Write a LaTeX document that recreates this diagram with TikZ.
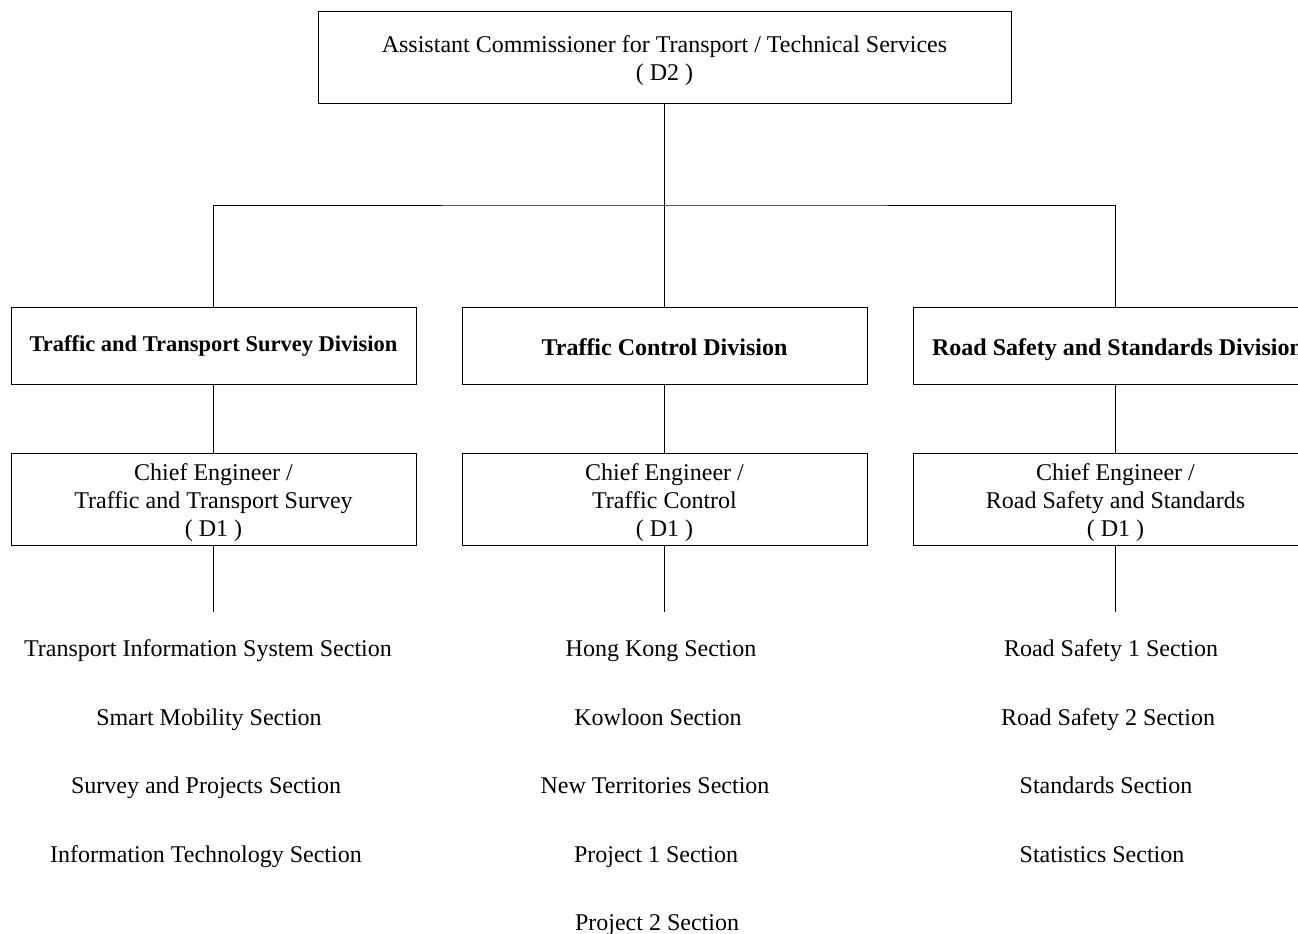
\documentclass[tikz,border=0pt]{standalone}
\usepackage{fontspec}
\setmainfont{Liberation Serif}
\begin{document}
\begin{tikzpicture}[x=1pt,y=-1pt,
  box/.style={draw, line width=0.9pt, rectangle, inner sep=0pt},
  divbox/.style={box, minimum width=405pt, minimum height=77pt},
  chiefbox/.style={box, minimum width=405pt, minimum height=92pt},
  txt/.style={align=center, inner sep=0pt, font=\fontsize{24}{28}\selectfont},
  btxt/.style={txt, font=\fontsize{24}{28}\selectfont\bfseries},
  sect/.style={anchor=base, inner sep=0pt, font=\fontsize{24}{28}\selectfont},
  conn/.style={line width=0.9pt}]
\useasboundingbox (0,0) rectangle (1298,934);
\clip (0,0) rectangle (1298,934);
% top
\node[box, minimum width=693pt, minimum height=92pt] (top) at (664.5,57) {};
\node[txt] (topt) at ([yshift=-4pt]top.center)
  {Assistant Commissioner for Transport / Technical Services\\( D2 )};
% divisions
\node[divbox] (div1) at (213.5,345.5) {};
\node[divbox] (div2) at (664.5,345.5) {};
\node[divbox] (div3) at (1115.5,345.5) {};
\node[btxt, font=\fontsize{22.5}{27}\selectfont\bfseries] (div1t) at ([yshift=-1pt]div1.center) {Traffic and Transport Survey Division};
\node[btxt] (div2t) at ([yshift=-2pt]div2.center) {Traffic Control Division};
\node[btxt] (div3t) at ([xshift=2pt,yshift=-4pt]div3.center) {Road Safety and Standards Division};
% chiefs
\node[chiefbox] (ce1) at (213.5,499) {};
\node[chiefbox] (ce2) at (664.5,499) {};
\node[chiefbox] (ce3) at (1115.5,499) {};
\node[txt] (ce1t) at ([yshift=-4pt]ce1.center) {Chief Engineer /\\Traffic and Transport Survey\\( D1 )};
\node[txt] (ce2t) at ([yshift=-4pt]ce2.center) {Chief Engineer /\\Traffic Control\\( D1 )};
\node[txt] (ce3t) at ([yshift=-4pt]ce3.center) {Chief Engineer /\\Road Safety and Standards\\( D1 )};
% connectors
\coordinate (bus) at (664.5,205);
\draw[conn] (top.south) -- (bus);
\draw[conn] (div1.north) |- (bus) -| (div3.north);
\draw[conn] (div2.north) -- (bus);
\draw[conn] (div1.south) -- (ce1.north);
\draw[conn] (div2.south) -- (ce2.north);
\draw[conn] (div3.south) -- (ce3.north);
\coordinate (e1) at (213.5,612);
\coordinate (e2) at (664.5,612);
\coordinate (e3) at (1115.5,612);
\draw[conn] (ce1.south) -- (e1);
\draw[conn] (ce2.south) -- (e2);
\draw[conn] (ce3.south) -- (e3);
% sections
\node[sect] (s11) at (208,656) {Transport Information System Section};
\node[sect] (s12) at (209,725) {Smart Mobility Section};
\node[sect] (s13) at (206,793) {Survey and Projects Section};
\node[sect] (s14) at (206,862) {Information Technology Section};
\node[sect] (s21) at (661,656) {Hong Kong Section};
\node[sect] (s22) at (658,725) {Kowloon Section};
\node[sect] (s23) at (655,793) {New Territories Section};
\node[sect] (s24) at (656,862) {Project 1 Section};
\node[sect] (s25) at (657,930) {Project 2 Section};
\node[sect] (s31) at (1111,656) {Road Safety 1 Section};
\node[sect] (s32) at (1108,725) {Road Safety 2 Section};
\node[sect] (s33) at (1106,793) {Standards Section};
\node[sect] (s34) at (1102,862) {Statistics Section};
\end{tikzpicture}
\end{document}
